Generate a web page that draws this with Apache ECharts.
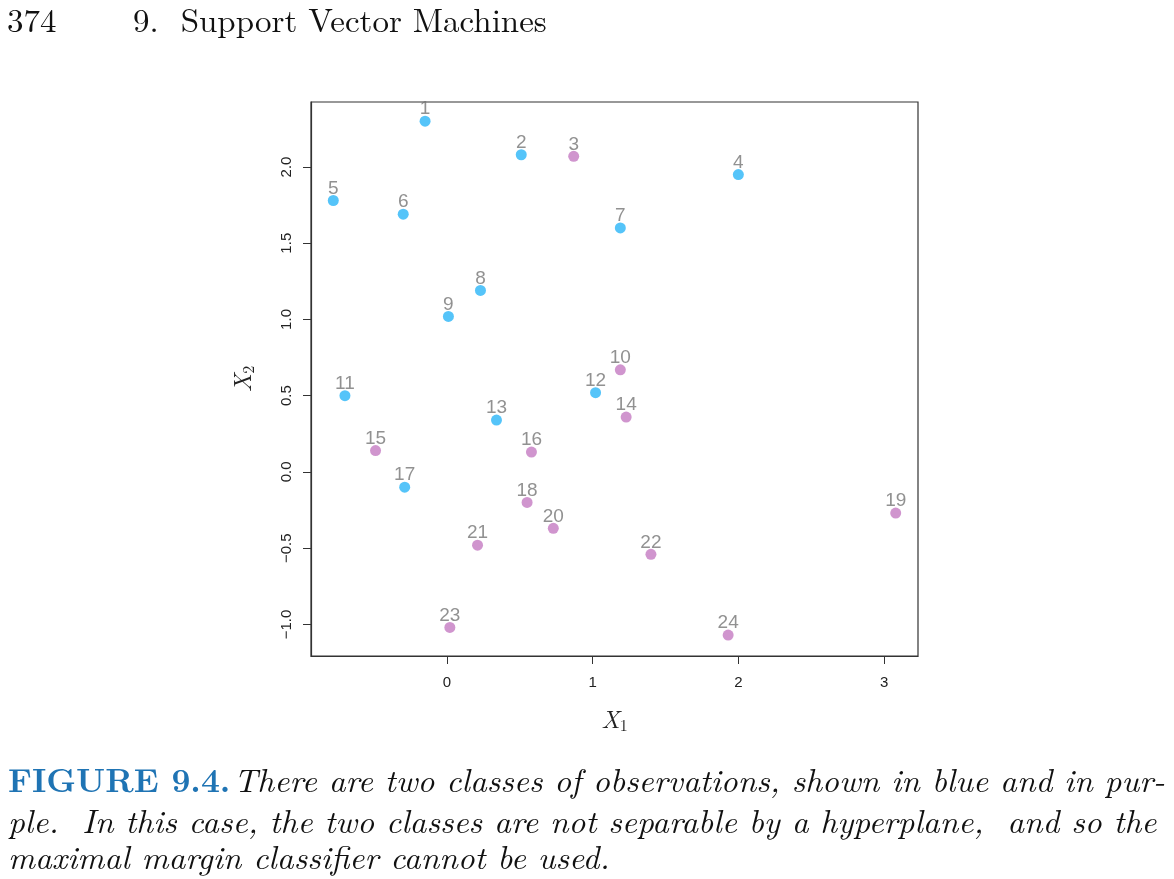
<!DOCTYPE html>
<html>
<head>
<meta charset="utf-8">
<script src="https://cdn.jsdelivr.net/npm/echarts@6/dist/echarts.min.js"></script>
<style>
	html, body { margin: 0; padding: 0; background: #fff; }
	#chart { width: 1174px; height: 879px; }
</style>
</head>
<body>
<div id="chart"></div>
<script>
const obsIds = [1, 2, 3, 4, 5, 6, 7, 8, 9, 10, 11, 12, 13, 14, 15, 16, 17, 18, 19, 20, 21, 22, 23, 24];
const x1Vals = [-0.15, 0.51, 0.87, 2.00, -0.78, -0.30, 1.19, 0.23, 0.01, 1.19, -0.70, 1.02, 0.34, 1.23, -0.49, 0.58, -0.29, 0.55, 3.08, 0.73, 0.21, 1.40, 0.02, 1.93];
const x2Vals = [2.30, 2.08, 2.07, 1.95, 1.78, 1.69, 1.60, 1.19, 1.02, 0.67, 0.50, 0.52, 0.34, 0.36, 0.14, 0.13, -0.10, -0.20, -0.27, -0.37, -0.48, -0.54, -1.02, -1.07];
const classes = ['b', 'b', 'p', 'b', 'b', 'b', 'b', 'b', 'b', 'p', 'b', 'b', 'b', 'p', 'p', 'p', 'b', 'p', 'p', 'p', 'p', 'p', 'p', 'p'];
const xTicks = [0, 1, 2, 3];
const yTicks = [-1, -0.5, 0, 0.5, 1, 1.5, 2];

const classColors = { b: '#2bb5f8', p: '#c47bc2' };

let pts = [];
for (let i = 0; i < obsIds.length; i++) {
	pts.push({
		value: [x1Vals[i], x2Vals[i], obsIds[i]],
		itemStyle: { color: classColors[classes[i]] }
	});
}

const serif = '"Latin Modern Roman", "DejaVu Serif", "Liberation Serif", serif';
const tickFont = '"Liberation Sans Narrow", "Liberation Sans", Arial, sans-serif';

let myChart = echarts.init(document.getElementById('chart'));
let option = {
	animation: false,
	grid: {
		left: 311, top: 102, width: 607, height: 554,
		show: true, borderColor: '#333', borderWidth: 1.2, backgroundColor: '#fff'
	},
	xAxis: {
		type: 'value',
		min: -0.933, max: 3.233,
		splitLine: { show: false },
		axisLine: { show: true, onZero: false, lineStyle: { color: '#333', width: 1.2 } },
		axisTick: { show: true, customValues: xTicks, length: 8, lineStyle: { color: '#333' } },
		axisLabel: {
			customValues: xTicks, margin: 19,
			fontFamily: tickFont, fontSize: 15, color: '#222'
		},
		name: '{i|X}{s|1}', nameLocation: 'middle', nameGap: 50,
		nameTextStyle: {
			rich: {
				i: { fontFamily: serif, fontStyle: 'italic', fontSize: 25, color: '#222' },
				s: { fontFamily: serif, fontSize: 16, color: '#222', padding: [12, 0, 0, 0] }
			}
		}
	},
	yAxis: {
		type: 'value',
		min: -1.207, max: 2.426,
		splitLine: { show: false },
		axisLine: { show: true, onZero: false, lineStyle: { color: '#333', width: 1.2 } },
		axisTick: { show: true, customValues: yTicks, length: 8, lineStyle: { color: '#333' } },
		axisLabel: {
			customValues: yTicks, rotate: 90, margin: 17,
			fontFamily: tickFont, fontSize: 15, color: '#222',
			formatter: function(v) { return (v < 0 ? '\u2212' : '') + Math.abs(v).toFixed(1); }
		},
		name: '{i|X}{s|2}', nameLocation: 'middle', nameGap: 54, nameRotate: 90,
		nameTextStyle: {
			rich: {
				i: { fontFamily: serif, fontStyle: 'italic', fontSize: 25, color: '#222' },
				s: { fontFamily: serif, fontSize: 16, color: '#222', padding: [12, 0, 0, 0] }
			}
		}
	},
	series: [{
		type: 'scatter',
		symbolSize: 11,
		data: pts,
		label: {
			show: true, position: 'top', distance: -3,
			formatter: function(p) { return p.value[2]; },
			fontFamily: '"Liberation Sans", Arial, sans-serif',
			fontSize: 19, color: '#767676'
		}
	}],
	graphic: [
		{ type: 'text', left: 7, top: 5, style: { text: '374', font: '33px ' + serif, fill: '#111' } },
		{ type: 'text', left: 133, top: 5, style: { text: '9.  Support Vector Machines', font: '33px ' + serif, fill: '#111' } },
		{
			type: 'text', left: 8, top: 765,
			style: {
				text: '{b|FIGURE 9.4.} {i|There are two classes of observations, shown in blue and in pur-}',
				rich: {
					b: { font: 'bold 33px ' + serif, fill: '#1f74b4' },
					i: { font: 'italic 33px ' + serif, fill: '#111' }
				}
			}
		},
		{
			type: 'text', left: 8, top: 806,
			style: { text: 'ple.  In this case, the two classes are not separable by a hyperplane,  and so the', font: 'italic 33px ' + serif, fill: '#111' }
		},
		{
			type: 'text', left: 8, top: 842,
			style: { text: 'maximal margin classifier cannot be used.', font: 'italic 33px ' + serif, fill: '#111' }
		}
	]
};
option && myChart.setOption(option);
</script>
</body>
</html>
